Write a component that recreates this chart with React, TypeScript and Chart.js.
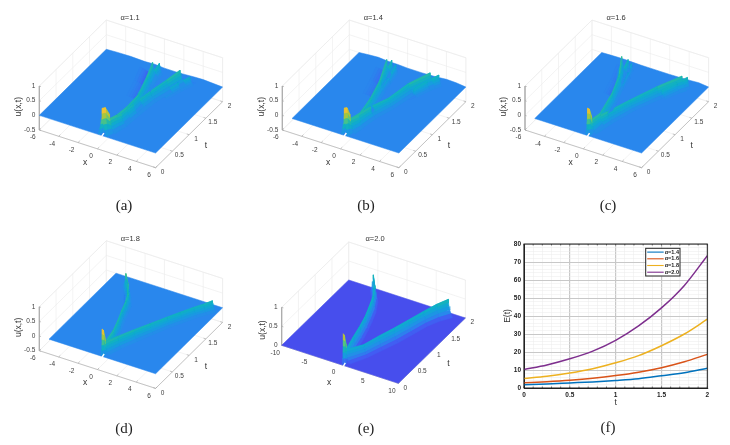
import React, { useEffect, useRef } from 'react';
import Chart from 'chart.js/auto';

// ---- panel (a) alpha=1.1 : crest lines, x / t / u
const aEdgeX = [-6, -5, -3.5, -2, -1, 0, 1.5, 3, 4, 6];
const aEdgeU = [0, 0.02, 0.03, 0.01, 0.03, 0, 0, 0.03, 0.04, 0];
const aSourceX = [0.45, 0.6, 0.75];
const aSourceT = [0.01, 0.06, 0.14];
const aSourceU = [0.92, 0.9, 0.6];
const aLeftX = [0.75, 0.95, 1.0, 0.88, 0.2, -0.33];
const aLeftT = [0.14, 0.3, 0.58, 0.97, 1.41, 1.74];
const aLeftU = [0.45, 0.42, 0.38, 0.36, 0.38, 0.45];
const aRightX = [0.75, 1.05, 1.17, 1.4, 1.9, 2.4];
const aRightT = [0.14, 0.4, 0.73, 1.16, 1.51, 1.77];
const aRightU = [0.45, 0.35, 0.33, 0.3, 0.35, 0.45];
const aFingerAX = [0.4, 0.2, 0.03];
const aFingerAT = [1.1, 1.5, 1.84];
const aFingerAU = [0.2, 0.3, 0.35];
const aFingerBX = [2.3, 2.8, 3.25];
const aFingerBT = [1.3, 1.6, 1.82];
const aFingerBU = [0.2, 0.25, 0.25];
const aWakeAX = [0.0, -0.6, -1.2];
const aWakeAT = [1.1, 1.5, 1.85];
const aWakeAU = [-0.02, -0.08, -0.1];
const aWakeBX = [1.4, 2.1, 2.8];
const aWakeBT = [1.3, 1.6, 1.9];
const aWakeBU = [-0.04, -0.1, -0.08];

// ---- panel (b) alpha=1.4
const bEdgeX = [-5, -4, -3, -2, -1, 0, 1.5, 3, 4, 5, 6];
const bEdgeU = [0, 0.03, 0.05, 0.02, 0.02, 0, 0, 0.02, 0.05, 0.04, 0];
const bSourceX = [0.35, 0.45, 0.55];
const bSourceT = [0.01, 0.06, 0.12];
const bSourceU = [0.92, 0.88, 0.6];
const bLeftX = [0.55, 0.8, 0.29, -0.29, -1.26];
const bLeftT = [0.12, 0.3, 0.8, 1.26, 1.74];
const bLeftU = [0.45, 0.4, 0.35, 0.4, 0.45];
const bRightX = [0.55, 0.95, 1.56, 2.08, 3.14];
const bRightT = [0.12, 0.61, 0.97, 1.42, 1.76];
const bRightU = [0.45, 0.35, 0.3, 0.35, 0.45];
const bFingerAX = [-0.3, -0.6, -0.95];
const bFingerAT = [1.2, 1.5, 1.8];
const bFingerAU = [0.2, 0.3, 0.4];
const bFingerBX = [0.0, -0.25, -0.5];
const bFingerBT = [1.2, 1.5, 1.79];
const bFingerBU = [0.15, 0.2, 0.3];
const bFingerCX = [2.7, 3.2, 3.75];
const bFingerCT = [1.4, 1.65, 1.84];
const bFingerCU = [0.25, 0.3, 0.35];
const bWakeAX = [-0.7, -1.2, -1.75];
const bWakeAT = [1.1, 1.45, 1.8];
const bWakeAU = [-0.02, -0.07, -0.1];
const bWakeBX = [1.9, 2.3, 2.7];
const bWakeBT = [1.3, 1.5, 1.75];
const bWakeBU = [-0.03, -0.08, -0.08];

// ---- panel (c) alpha=1.6
const cEdgeX = [-5, -4, -3, -2, -1, 0, 2, 4, 5, 6];
const cEdgeU = [0, 0.01, 0.02, 0.01, 0, 0, 0, 0.02, 0.04, 0];
const cSourceX = [0.4, 0.45, 0.5];
const cSourceT = [0.01, 0.05, 0.1];
const cSourceU = [0.92, 0.85, 0.55];
const cLeftX = [0.5, 0.57, -0.19, -0.95, -1.98];
const cLeftT = [0.1, 0.33, 0.91, 1.35, 1.72];
const cLeftU = [0.45, 0.4, 0.35, 0.4, 0.5];
const cRightX = [0.5, 0.88, 1.63, 2.77, 4.1];
const cRightT = [0.1, 0.45, 0.93, 1.39, 1.75];
const cRightU = [0.45, 0.35, 0.3, 0.35, 0.45];
const cFingerAX = [-0.8, -1.2, -1.6];
const cFingerAT = [1.2, 1.5, 1.8];
const cFingerAU = [0.2, 0.3, 0.35];
const cFingerBX = [-0.5, -0.9, -1.25];
const cFingerBT = [1.3, 1.6, 1.8];
const cFingerBU = [0.1, 0.2, 0.25];
const cFingerCX = [3.3, 3.9, 4.4];
const cFingerCT = [1.4, 1.65, 1.83];
const cFingerCU = [0.28, 0.32, 0.35];
const cWakeAX = [-1.0, -1.5, -2.2];
const cWakeAT = [1.1, 1.45, 1.85];
const cWakeAU = [-0.02, -0.08, -0.1];

// ---- panel (d) alpha=1.8, narrow ridges
const dEdgeX = [-5, 6];
const dEdgeU = [0, 0];
const dSourceX = [0.45, 0.48, 0.5];
const dSourceT = [0.01, 0.04, 0.08];
const dSourceU = [0.92, 0.85, 0.55];
const dLeftX = [0.5, 0.19, -0.3, -0.84, -1.15, -1.53, -2.2, -3.05];
const dLeftT = [0.08, 0.42, 0.7, 0.97, 1.17, 1.36, 1.55, 1.73];
const dLeftU = [0.4, 0.4, 0.37, 0.35, 0.37, 0.4, 0.45, 0.5];
const dRightX = [0.5, 0.95, 1.63, 2.35, 3.1, 3.75, 4.4, 4.95, 5.46];
const dRightT = [0.08, 0.32, 0.6, 0.88, 1.17, 1.38, 1.59, 1.72, 1.85];
const dRightU = [0.4, 0.37, 0.35, 0.32, 0.3, 0.3, 0.3, 0.32, 0.35];
const dWakeX = [-1.4, -2, -2.8];
const dWakeT = [1.2, 1.45, 1.7];
const dWakeU = [-0.05, -0.15, -0.2];

// ---- panel (e) alpha=2.0
const eEdgeX = [-10, 10];
const eEdgeU = [0, 0];
const eSourceX = [0.5, 0.52, 0.55];
const eSourceT = [0.01, 0.04, 0.08];
const eSourceU = [0.82, 0.75, 0.5];
const eLeftX = [0.55, -0.18, -0.7, -1.3, -1.95, -2.7, -3.8, -5.26];
const eLeftT = [0.08, 0.43, 0.7, 0.97, 1.2, 1.45, 1.7, 1.91];
const eLeftU = [0.35, 0.35, 0.35, 0.35, 0.37, 0.4, 0.42, 0.45];
const eRightX = [0.55, 1.94, 2.9, 3.9, 4.7, 5.5, 6.5, 7.6];
const eRightT = [0.08, 0.36, 0.64, 0.92, 1.22, 1.53, 1.75, 1.91];
const eRightU = [0.35, 0.3, 0.33, 0.35, 0.35, 0.35, 0.4, 0.45];

// ---- panel (f) energy curves
const energyT = [0, 0.25, 0.5, 0.75, 1, 1.25, 1.5, 1.75, 2];
const energy14 = [1.8, 2.2, 2.8, 3.4, 4.2, 5.2, 6.8, 8.5, 11];
const energy16 = [2.9, 3.5, 4.3, 5.4, 6.9, 8.8, 11.3, 14.6, 18.7];
const energy18 = [5.3, 6.5, 8.3, 10.7, 14, 18, 23.5, 30, 38.2];
const energy20 = [10.3, 12.8, 16.2, 20.5, 26.5, 34.5, 44.5, 57, 73.5];
const energyLabels = ['\u03b1=1.4', '\u03b1=1.6', '\u03b1=1.8', '\u03b1=2.0'];
const energyColors = ['#0072BD', '#D95319', '#EDB120', '#7E2F8E'];

const tTicks = [0, 0.5, 1, 1.5, 2];
const xTicks6 = [-6, -4, -2, 0, 2, 4, 6];
const xTicks10 = [-10, -5, 0, 5, 10];
const uTicks5 = [-0.5, 0, 0.5, 1];
const uTicks0 = [0, 0.5, 1];

const PARULA = [
    [62, 38, 168], [72, 82, 244], [41, 135, 237], [22, 158, 222], [14, 175, 200],
    [34, 184, 170], [92, 200, 120], [163, 199, 66], [219, 186, 48], [252, 201, 54], [249, 250, 20],
];

const parula = (v: number) => {
    const p = Math.max(0, Math.min(0.9999, v)) * 10;
    const i = Math.floor(p);
    const f = p - i;
    const c = PARULA[i].map((a, k) => Math.round(a + (PARULA[i + 1][k] - a) * f));
    return `rgb(${c[0]},${c[1]},${c[2]})`;
};

type Ridge = { x: number[]; t: number[]; u: number[]; w: number };

const ridge = (x: number[], t: number[], u: number[], w: number): Ridge => ({ x, t, u, w });

const sans = '"Liberation Sans", Arial, sans-serif';

const SurfacePanel = ({ cfg }: any) => {
    const canvasRef = useRef<HTMLCanvasElement>(null);

    useEffect(() => {
        if (!canvasRef.current) return;
        const { xMin, xMax, uMin, xTicks, uTicks, ox, oy, ex, et, ez } = cfg;

        const project = (x: number, t: number, u: number) => ({
            x: ox + ((x - xMin) / (xMax - xMin)) * ex[0] + (t / 2) * et[0],
            y: oy + ((x - xMin) / (xMax - xMin)) * ex[1] + (t / 2) * et[1] - (u - uMin) * ez,
        });
        const colorOf = (u: number) => parula((u - cfg.colorMin) / (cfg.colorMax - cfg.colorMin));

        const datasets: any[] = [];
        const addLine = (pts: any[], color: string, width = 0.6) => datasets.push({
            data: pts, borderColor: color, borderWidth: width, fill: false,
        });
        const addPoly = (pts: any[], color: string) => datasets.push({
            data: [...pts, pts[0]], borderColor: color, backgroundColor: color, borderWidth: 0.5, fill: 'shape',
        });

        // walls and floor grid
        const grid = '#ebebeb';
        const top = 1;
        xTicks.forEach((x: number) => {
            addLine([project(x, 2, uMin), project(x, 2, top)], grid);
            addLine([project(x, 0, uMin), project(x, 2, uMin)], grid);
        });
        tTicks.forEach(t => {
            addLine([project(xMin, t, uMin), project(xMin, t, top)], grid);
            addLine([project(xMin, t, uMin), project(xMax, t, uMin)], grid);
        });
        uTicks.forEach((u: number) => {
            addLine([project(xMin, 0, u), project(xMin, 2, u), project(xMax, 2, u)], grid);
        });
        addLine([project(xMin, 0, top), project(xMin, 2, top), project(xMax, 2, top)], grid);
        addLine([project(xMax, 2, uMin), project(xMax, 2, top)], grid);

        // axes with their ticks
        const axis = '#a3a3a3';
        addLine([project(xMin, 0, top), project(xMin, 0, uMin), project(xMax, 0, uMin), project(xMax, 2, uMin)], axis);
        xTicks.forEach((x: number) => addLine([project(x, 0, uMin), project(x, 0.05, uMin)], axis));
        tTicks.forEach(t => addLine([project(xMax, t, uMin), project(xMax - (xMax - xMin) * 0.02, t, uMin)], axis));
        uTicks.forEach((u: number) => addLine([project(xMin, 0, u), project(xMin + (xMax - xMin) * 0.015, 0, u)], axis));

        // surface sheet
        const edge: any[] = [];
        for (let i = cfg.edgeX.length - 1; i >= 0; i--) edge.push(project(cfg.edgeX[i], 2, cfg.edgeU[i]));
        addPoly([
            project(cfg.surfaceMin, 0, 0),
            project(xMax, 0, 0),
            ...edge,
        ], colorOf(0));

        const addRidges = (list: Ridge[]) => {
            const quads: any[] = [];
            const bands = 5;
            list.forEach(r => {
                const at = (i: number, side: number, h: number) => {
                    const d = (1 - h) * (1 - h);
                    return project(r.x[i] + side * r.w * d, r.t[i], r.u[i] * h);
                };
                for (let i = 0; i < r.x.length - 1; i++) {
                    [-1, 1].forEach(side => {
                        for (let b = 0; b < bands; b++) {
                            const h0 = b / bands;
                            const h1 = (b + 1) / bands;
                            const base = (r.x[i] + r.x[i + 1]) / 2 + side * r.w * (1 - h0) * (1 - h0);
                            quads.push({
                                depth: project(base, (r.t[i] + r.t[i + 1]) / 2, 0).y,
                                pts: [at(i, side, h0), at(i, side, h1), at(i + 1, side, h1), at(i + 1, side, h0)],
                                color: colorOf(((r.u[i] + r.u[i + 1]) / 2) * (h0 + h1) / 2),
                            });
                        }
                    });
                }
            });
            quads.sort((a, b) => a.depth - b.depth).forEach(q => addPoly(q.pts, q.color));
        };
        addRidges(cfg.wakes);
        addRidges(cfg.ridges);

        // slit in the front edge under the source
        addLine([project(cfg.slitX, 0, -0.04), project(cfg.slitX, 0.07, 0)], '#ffffff', 1.4);

        // chart draws the first dataset last, so flip it
        datasets.reverse();

        const chart = new Chart(canvasRef.current, {
            type: 'line',
            data: { datasets },
            options: {
                animation: false,
                responsive: false,
                parsing: false,
                normalized: false,
                layout: { padding: 0 },
                elements: { point: { radius: 0 }, line: { tension: 0 } },
                scales: {
                    x: { type: 'linear', display: false, min: 0, max: 240 },
                    y: { type: 'linear', display: false, min: 0, max: 215, reverse: true },
                },
                plugins: { legend: { display: false }, tooltip: { enabled: false } },
            } as any,
            plugins: [{
                id: 'axisText',
                afterDraw(c: any) {
                    const ctx = c.ctx;
                    const text = (s: string, p: any, font: string, align: CanvasTextAlign = 'center', rot = 0, color = '#404040') => {
                        ctx.save();
                        ctx.translate(c.scales.x.getPixelForValue(p.x), c.scales.y.getPixelForValue(p.y));
                        ctx.rotate(rot);
                        ctx.font = font;
                        ctx.fillStyle = color;
                        ctx.textAlign = align;
                        ctx.textBaseline = 'middle';
                        ctx.fillText(s, 0, 0);
                        ctx.restore();
                    };
                    const tickFont = `6.5px ${sans}`;
                    xTicks.forEach((x: number) => {
                        const p = project(x, 0, uMin);
                        text(String(x), { x: p.x - 6.5, y: p.y + 7.5 }, tickFont);
                    });
                    tTicks.forEach(t => {
                        const p = project(xMax, t, uMin);
                        text(String(t), { x: p.x + 7, y: p.y + 4.5 }, tickFont);
                    });
                    uTicks.forEach((u: number) => {
                        const p = project(xMin, 0, u);
                        text(String(u), { x: p.x - 4, y: p.y }, tickFont, 'right');
                    });
                    const labelFont = `8.5px ${sans}`;
                    text('x', { x: ox + cfg.xLabel[0], y: oy + cfg.xLabel[1] }, labelFont, 'center', 0, '#333');
                    text('t', { x: ox + cfg.tLabel[0], y: oy + cfg.tLabel[1] }, labelFont, 'center', 0, '#333');
                    text('u(x,t)', { x: ox + cfg.uLabel[0], y: oy + cfg.uLabel[1] }, labelFont, 'center', -Math.PI / 2, '#333');
                    text(cfg.title, { x: ox + cfg.titlePos[0], y: oy + cfg.titlePos[1] }, `7.5px ${sans}`, 'center', 0, '#333');
                },
            }],
        });
        return () => chart.destroy();
    }, [cfg]);

    return (
        <canvas
            ref={canvasRef}
            width={240}
            height={215}
            style={{ position: 'absolute', left: cfg.left, top: cfg.top, width: 240, height: 215 }}
        />
    );
};

const EnergyPanel = () => {
    const canvasRef = useRef<HTMLCanvasElement>(null);

    useEffect(() => {
        if (!canvasRef.current) return;
        const series = [energy14, energy16, energy18, energy20];
        const isHalf = (v: number) => Math.abs(v / 0.5 - Math.round(v / 0.5)) < 1e-6;
        const chart = new Chart(canvasRef.current, {
            type: 'line',
            data: {
                labels: energyT,
                datasets: series.map((s, i) => ({
                    label: energyLabels[i],
                    data: s.map((v, k) => ({ x: energyT[k], y: v })),
                    borderColor: energyColors[i],
                    borderWidth: 1.5,
                    pointRadius: 0,
                    cubicInterpolationMode: 'monotone',
                    fill: false,
                })),
            },
            options: {
                animation: false,
                responsive: false,
                layout: { padding: { left: 0, top: 14, right: 5.7, bottom: 0 } },
                scales: {
                    x: {
                        type: 'linear', min: 0, max: 2,
                        afterFit: (s: any) => { s.height = 20; },
                        title: { display: true, text: 't', font: { family: sans, size: 8.5 }, color: '#333', padding: 0 },
                        border: { color: '#222', width: 1 },
                        grid: {
                            drawTicks: false,
                            color: (c: any) => isHalf(c.tick.value) ? '#c8c8c8' : '#ebebeb',
                            lineWidth: (c: any) => isHalf(c.tick.value) ? 1.2 : 0.5,
                        },
                        ticks: {
                            stepSize: 0.1, autoSkip: false, maxRotation: 0, padding: 3,
                            font: { family: sans, size: 6.5, weight: 'bold' }, color: '#222',
                            callback: (v: any) => isHalf(v) ? String(Math.round(v * 10) / 10) : '',
                        },
                    },
                    y: {
                        type: 'linear', min: 0, max: 80,
                        afterFit: (s: any) => { s.width = 21; },
                        title: { display: true, text: 'E(t)', font: { family: sans, size: 8.5 }, color: '#333', padding: 0 },
                        border: { color: '#222', width: 1 },
                        grid: {
                            drawTicks: false,
                            color: (c: any) => c.tick.value % 10 === 0 ? '#c8c8c8' : '#ebebeb',
                            lineWidth: (c: any) => c.tick.value % 10 === 0 ? 1 : 0.5,
                        },
                        ticks: {
                            stepSize: 2, autoSkip: false, padding: 3,
                            font: { family: sans, size: 6.5, weight: 'bold' }, color: '#222',
                            callback: (v: any) => v % 10 === 0 ? String(v) : '',
                        },
                    },
                },
                plugins: { legend: { display: false }, tooltip: { enabled: false } },
            } as any,
            plugins: [{
                id: 'boxAndLegend',
                afterDraw(c: any) {
                    const { ctx, chartArea: a } = c;
                    ctx.save();
                    ctx.strokeStyle = '#222';
                    ctx.lineWidth = 1;
                    ctx.strokeRect(a.left, a.top, a.right - a.left, a.bottom - a.top);
                    // inward minor ticks
                    ctx.lineWidth = 0.6;
                    c.scales.x.ticks.forEach((t: any) => {
                        const px = c.scales.x.getPixelForValue(t.value);
                        ctx.beginPath();
                        ctx.moveTo(px, a.top); ctx.lineTo(px, a.top + 1.5);
                        ctx.moveTo(px, a.bottom); ctx.lineTo(px, a.bottom - 1.5);
                        ctx.stroke();
                    });
                    const bx = a.left + 121.7;
                    const by = a.top + 4.3;
                    const bw = 34.3;
                    const bh = 27.7;
                    ctx.fillStyle = '#fff';
                    ctx.fillRect(bx, by, bw, bh);
                    ctx.lineWidth = 1;
                    ctx.strokeRect(bx, by, bw, bh);
                    c.data.datasets.forEach((d: any, i: number) => {
                        const y = by + 3.8 + i * 6.7;
                        ctx.strokeStyle = d.borderColor;
                        ctx.lineWidth = 1.1;
                        ctx.beginPath();
                        ctx.moveTo(bx + 1.5, y); ctx.lineTo(bx + 18, y);
                        ctx.stroke();
                        ctx.fillStyle = '#222';
                        ctx.font = `bold 5.5px ${sans}`;
                        ctx.textBaseline = 'middle';
                        ctx.textAlign = 'left';
                        ctx.fillText(d.label, bx + 19, y);
                    });
                    ctx.restore();
                },
            }],
        });
        return () => chart.destroy();
    }, []);

    return (
        <canvas
            ref={canvasRef}
            width={210}
            height={178}
            style={{ position: 'absolute', left: 503, top: 230, width: 210, height: 178 }}
        />
    );
};

const PANELS = [
    {
        left: 0, top: 0, ox: 39.3, oy: 130, ex: [116.3, 37.7], et: [67, -66], ez: 29.3,
        xMin: -6, xMax: 6, surfaceMin: -6, uMin: -0.5, xTicks: xTicks6, uTicks: uTicks5, colorMin: -0.25, colorMax: 1,
        title: '\u03b1=1.1', slitX: 0.42, edgeX: aEdgeX, edgeU: aEdgeU,
        xLabel: [45.7, 32.3], tLabel: [166.7, 15.7], uLabel: [-21, -23.3], titlePos: [90.7, -112.3],
        ridges: [
            ridge(aSourceX, aSourceT, aSourceU, 0.4), ridge(aLeftX, aLeftT, aLeftU, 0.5), ridge(aRightX, aRightT, aRightU, 0.6),
            ridge(aFingerAX, aFingerAT, aFingerAU, 0.3), ridge(aFingerBX, aFingerBT, aFingerBU, 0.35),
        ],
        wakes: [ridge(aWakeAX, aWakeAT, aWakeAU, 0.8), ridge(aWakeBX, aWakeBT, aWakeBU, 0.8)],
    },
    {
        left: 245, top: 0, ox: 37.3, oy: 130, ex: [116.6, 37.7], et: [67, -66], ez: 29.3,
        xMin: -6, xMax: 6, surfaceMin: -5, uMin: -0.5, xTicks: xTicks6, uTicks: uTicks5, colorMin: -0.25, colorMax: 1,
        title: '\u03b1=1.4', slitX: 0.35, edgeX: bEdgeX, edgeU: bEdgeU,
        xLabel: [45.7, 32.3], tLabel: [166.7, 15.7], uLabel: [-21, -23.3], titlePos: [91, -112.3],
        ridges: [
            ridge(bSourceX, bSourceT, bSourceU, 0.3), ridge(bLeftX, bLeftT, bLeftU, 0.45), ridge(bRightX, bRightT, bRightU, 0.55),
            ridge(bFingerAX, bFingerAT, bFingerAU, 0.25), ridge(bFingerBX, bFingerBT, bFingerBU, 0.2), ridge(bFingerCX, bFingerCT, bFingerCU, 0.3),
        ],
        wakes: [ridge(bWakeAX, bWakeAT, bWakeAU, 0.8), ridge(bWakeBX, bWakeBT, bWakeBU, 0.8)],
    },
    {
        left: 490, top: 0, ox: 35, oy: 130, ex: [116.6, 37.7], et: [67, -66], ez: 29.3,
        xMin: -6, xMax: 6, surfaceMin: -5, uMin: -0.5, xTicks: xTicks6, uTicks: uTicks5, colorMin: -0.25, colorMax: 1,
        title: '\u03b1=1.6', slitX: 0.4, edgeX: cEdgeX, edgeU: cEdgeU,
        xLabel: [45.7, 32.3], tLabel: [166.7, 15.7], uLabel: [-21, -23.3], titlePos: [91, -112.3],
        ridges: [
            ridge(cSourceX, cSourceT, cSourceU, 0.2), ridge(cLeftX, cLeftT, cLeftU, 0.4), ridge(cRightX, cRightT, cRightU, 0.5),
            ridge(cFingerAX, cFingerAT, cFingerAU, 0.2), ridge(cFingerBX, cFingerBT, cFingerBU, 0.15), ridge(cFingerCX, cFingerCT, cFingerCU, 0.3),
        ],
        wakes: [ridge(cWakeAX, cWakeAT, cWakeAU, 0.7)],
    },
    {
        left: 0, top: 230, ox: 39.3, oy: 120.7, ex: [116.3, 37.7], et: [67, -66], ez: 29.3,
        xMin: -6, xMax: 6, surfaceMin: -5, uMin: -0.5, xTicks: xTicks6, uTicks: uTicks5, colorMin: -0.25, colorMax: 1,
        title: '\u03b1=1.8', slitX: 0.45, edgeX: dEdgeX, edgeU: dEdgeU,
        xLabel: [45.7, 32.3], tLabel: [166.7, 15.7], uLabel: [-21, -23.3], titlePos: [91, -111.7],
        ridges: [ridge(dSourceX, dSourceT, dSourceU, 0.12), ridge(dLeftX, dLeftT, dLeftU, 0.3), ridge(dRightX, dRightT, dRightU, 0.4)],
        wakes: [ridge(dWakeX, dWakeT, dWakeU, 0.25)],
    },
    {
        left: 250, top: 230, ox: 31.7, oy: 115.3, ex: [116.7, 38], et: [67, -65.3], ez: 38,
        xMin: -10, xMax: 10, surfaceMin: -10, uMin: 0, xTicks: xTicks10, uTicks: uTicks0, colorMin: -0.1, colorMax: 1,
        title: '\u03b1=2.0', slitX: 0.5, edgeX: eEdgeX, edgeU: eEdgeU,
        xLabel: [47.3, 37], tLabel: [166.7, 18], uLabel: [-19, -15.3], titlePos: [93.3, -106.7],
        ridges: [ridge(eSourceX, eSourceT, eSourceU, 0.2), ridge(eLeftX, eLeftT, eLeftU, 0.5), ridge(eRightX, eRightT, eRightU, 0.7)],
        wakes: [],
    },
];

const CAPTIONS = [
    { text: '(a)', x: 124, y: 205 }, { text: '(b)', x: 366, y: 205 }, { text: '(c)', x: 608, y: 205 },
    { text: '(d)', x: 124, y: 428 }, { text: '(e)', x: 366, y: 428 }, { text: '(f)', x: 608, y: 427 },
];

export default function App() {
    return (
        <div style={{ position: 'absolute', left: 0, top: 0, width: 730, height: 445, background: '#fff', overflow: 'hidden' }}>
            {PANELS.map((p, i) => <SurfacePanel key={i} cfg={p} />)}
            <EnergyPanel />
            {CAPTIONS.map((c, i) => (
                <div
                    key={i}
                    style={{
                        position: 'absolute', left: c.x - 20, top: c.y - 9, width: 40, height: 18, lineHeight: '18px', textAlign: 'center',
                        fontFamily: '"Liberation Serif", serif', fontSize: 15, color: '#222',
                    }}
                >
                    {c.text}
                </div>
            ))}
        </div>
    );
}
